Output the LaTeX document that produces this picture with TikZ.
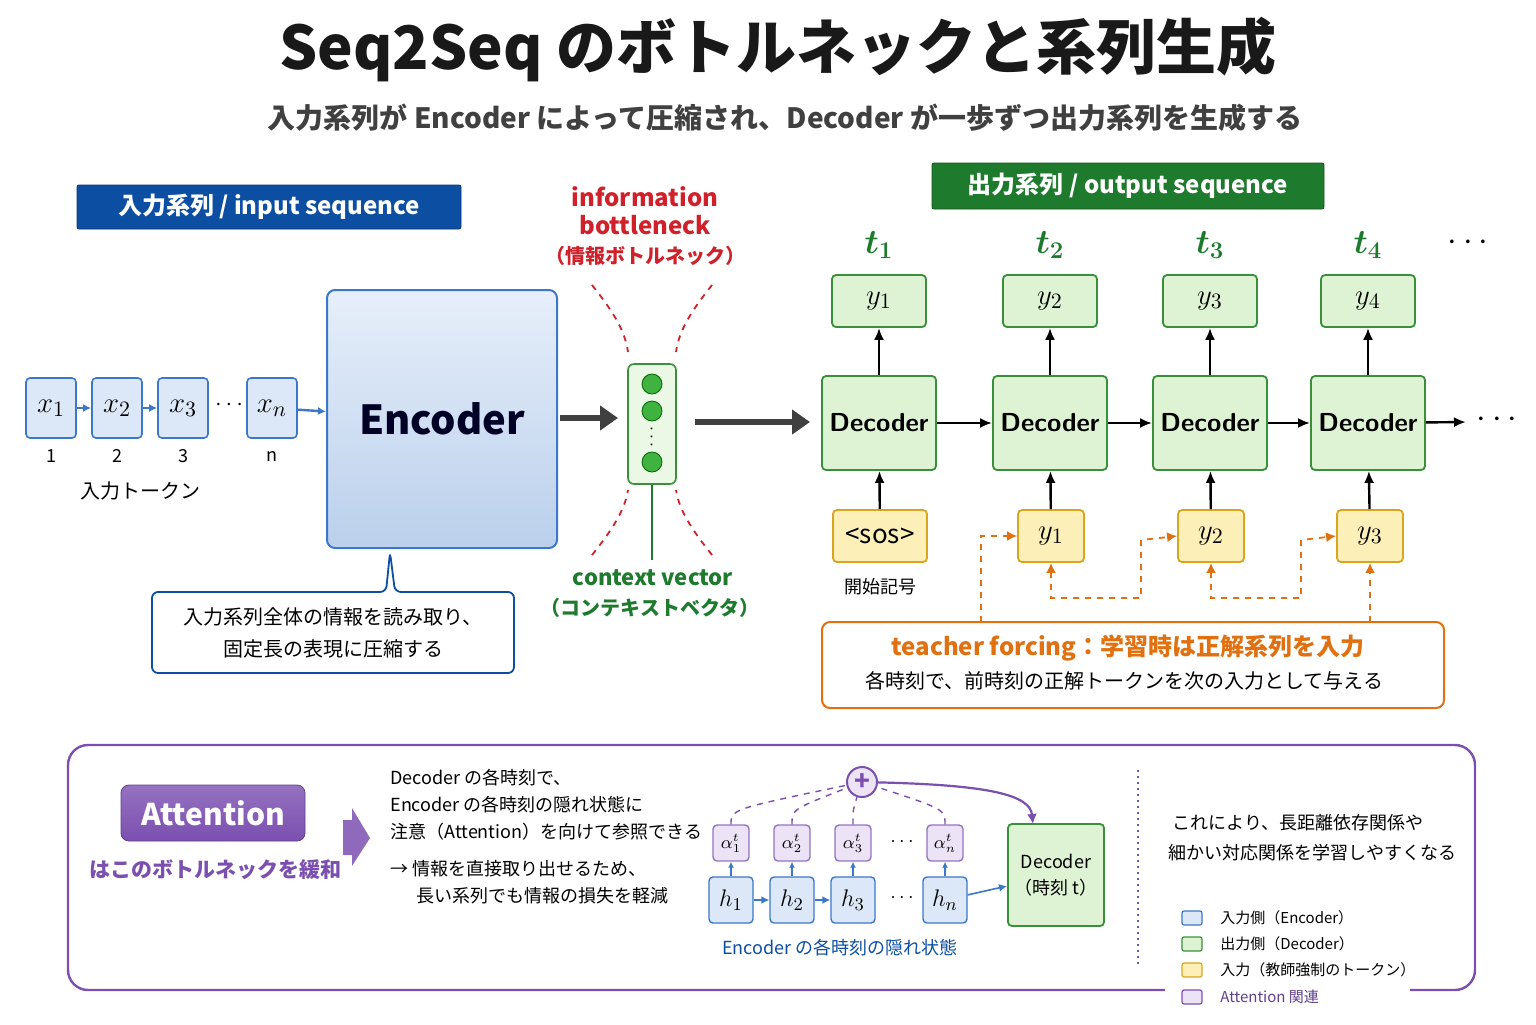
\documentclass[tikz,border=0pt]{standalone}
\usepackage{bm}
\usepackage{fontspec}
\setmainfont{Noto Sans CJK JP}
\usetikzlibrary{arrows.meta,calc,shapes.geometric}
\definecolor{dblue}{HTML}{0B4EA2}
\definecolor{lblue}{HTML}{DCE8F8}
\definecolor{bblue}{HTML}{3C78C8}
\definecolor{dgreen}{HTML}{1E7B2E}
\definecolor{lgreen}{HTML}{DDF3D3}
\definecolor{bgreen}{HTML}{3A8F3A}
\definecolor{lyel}{HTML}{FCEFB8}
\definecolor{byel}{HTML}{D9A520}
\definecolor{myred}{HTML}{D0202A}
\definecolor{orng}{HTML}{E07010}
\definecolor{purp}{HTML}{7B4FB0}
\definecolor{lpurp}{HTML}{EDE3F7}
\newcommand{\fs}[1]{\fontsize{#1}{#1}\selectfont}
\tikzset{
 x=0.5pt,y=-0.5pt,
 tok/.style={draw=bblue,fill=lblue,line width=0.8pt,rounded corners=2pt,minimum width=25pt,minimum height=30pt,font=\fs{15}},
 dec/.style={draw=bgreen,fill=lgreen,line width=0.9pt,rounded corners=2pt,minimum width=57pt,minimum height=47pt,font=\fs{14}},
 yout/.style={draw=bgreen,fill=lgreen,line width=0.9pt,rounded corners=2pt,minimum width=47pt,minimum height=26pt,font=\fs{15}},
 yin/.style={draw=byel,fill=lyel,line width=0.9pt,rounded corners=2pt,minimum width=33pt,minimum height=26pt,font=\fs{15}},
 tl/.style={text=dgreen,font=\fs{17}\bfseries},
 arr/.style={-{Latex[length=6pt,width=5pt]},line width=1.2pt,black},
 barr/.style={-{Latex[length=4pt,width=4pt]},line width=0.8pt,bblue},
 oarr/.style={{Latex[length=5pt,width=5pt]}-{Latex[length=5pt,width=5pt]},line width=0.9pt,orng,dashed},
 rd/.style={myred,dashed,line width=0.9pt},
 al/.style={draw=purp!80,fill=lpurp,line width=0.7pt,rounded corners=2pt,minimum width=18pt,minimum height=18pt,inner sep=0pt,font=\fs{9}},
 hb/.style={draw=bblue,fill=lblue,line width=0.7pt,rounded corners=2pt,minimum width=22pt,minimum height=23pt,font=\fs{13}},
 txt/.style={font=\fs{9},anchor=west,inner sep=0pt},
 leg/.style={draw,line width=0.6pt,minimum width=10pt,minimum height=7pt,inner sep=0pt,rounded corners=1pt},
}
\begin{document}
\begin{tikzpicture}
\useasboundingbox (0,0) rectangle (1536,1024);
% titles
\node[font=\fs{30}\bfseries,text=black!90] (title) at (778,50) {Seq2Seq のボトルネックと系列生成};
\node[font=\fs{14}\bfseries,text=black!75] (sub) at (785,118) {入力系列が Encoder によって圧縮され、Decoder が一歩ずつ出力系列を生成する};
\node[draw=dblue!70!black,fill=dblue,text=white,font=\fs{12}\bfseries,minimum width=192pt,minimum height=22pt,rounded corners=1pt] (inlab) at (269,207) {入力系列 / input sequence};
\node[draw=dgreen!70!black,fill=dgreen,text=white,font=\fs{12}\bfseries,minimum width=196pt,minimum height=23pt,rounded corners=1pt] (outlab) at (1128,186) {出力系列 / output sequence};
% input tokens
\node[tok] (x1) at (51,408) {$x_1$};
\node[tok] (x2) at (117,408) {$x_2$};
\node[tok] (x3) at (183,408) {$x_3$};
\node[font=\fs{12}] (xd) at (229,405) {$\cdots$};
\node[tok] (xn) at (272,408) {$x_n$};
\draw[barr] (x1) -- (x2); \draw[barr] (x2) -- (x3);
\node[font=\fs{9}] (n1) at (51,456) {1};
\node[font=\fs{9}] (n2) at (117,456) {2};
\node[font=\fs{9}] (n3) at (183,456) {3};
\node[font=\fs{9}] (nn) at (272,456) {n};
\node[font=\fs{10}] (intok) at (140,491) {入力トークン};
% encoder
\node[draw=bblue,line width=1pt,top color=lblue!70,bottom color=bblue!35,rounded corners=4pt,minimum width=115pt,minimum height=129pt,font=\fs{20}\bfseries,text=black!85!blue] (enc) at (442,419) {Encoder};
\draw[barr,line width=1.2pt] (xn) -- (enc);
% context vector
\node[draw=bgreen,fill=lgreen!60,rounded corners=3pt,line width=0.8pt,minimum width=24pt,minimum height=60pt] (cv) at (652,424) {};
\foreach \yy/\nm in {384/c1,411/c2,462/c3}
 \node[circle,fill=green!60!black!75,draw=green!40!black,minimum size=10pt,inner sep=0pt] (\nm) at (652,\yy) {};
\node[font=\fs{9},rotate=90] (cvd) at (652,437) {$\cdots$};
\draw[-{Triangle[length=9pt,width=12pt]},line width=3pt,black!75] (560,418) coordinate (ea) -- (618,418) coordinate (eb);
\draw[-{Triangle[length=9pt,width=12pt]},line width=3pt,black!75] (695,422) coordinate (cva) -- (810,422) coordinate (cvb);
\draw[rd] (592,285) .. controls (612,310) and (625,330) .. (628,352);
\draw[rd] (712,285) .. controls (692,310) and (679,330) .. (676,352);
\draw[rd] (592,555) .. controls (612,530) and (625,510) .. (628,490);
\draw[rd] (712,555) .. controls (692,530) and (679,510) .. (676,490);
\node[text=myred,font=\fs{12}\bfseries,align=center] (bn) at (645,211) {information\\[2pt]bottleneck};
\node[text=myred,font=\fs{10}\bfseries] (bnj) at (645,256) {（情報ボトルネック）};
\draw[dgreen,line width=0.9pt] (cv.south) -- (652,560) coordinate (cvl);
\node[text=dgreen,font=\fs{11}\bfseries] (cvt) at (653,578) {context vector};
\node[text=dgreen,font=\fs{10}\bfseries] (cvj) at (650,608) {（コンテキストベクタ）};
% callout
\draw[draw=dblue,fill=white,line width=0.9pt,rounded corners=3pt] (152,592) -- (386,592) -- (390,552) -- (395,592) -- (514,592) -- (514,673) -- (152,673) -- cycle;
\node[font=\fs{10},align=center] (callt) at (333,633) {入力系列全体の情報を読み取り、\\[6pt]固定長の表現に圧縮する};
% decoders
\foreach \i/\xx in {1/879,2/1050,3/1210,4/1368}{
 \node[dec] (d\i) at (\xx,423) {\fs{13}\sffamily\bfseries Decoder};
 \node[yout] (o\i) at (\xx,301) {$y_{\i}$};
 \node[tl] (t\i) at (\xx,245) {$\bm{t_{\i}}$};
 \draw[arr] (d\i) -- (o\i);
}
\node[font=\fs{16}\bfseries] (tdots) at (1468,243) {$\cdots$};
\draw[arr] (d1) -- (d2); \draw[arr] (d2) -- (d3); \draw[arr] (d3) -- (d4);
\coordinate (dend) at (1466,422);
\draw[arr] (d4) -- (dend);
\node[font=\fs{16}] (ddots) at (1497,420) {$\cdots$};
\node[yin,minimum width=47pt,font=\fs{13}] (sos) at (880,536) {<sos>};
\node[yin] (i1) at (1051,536) {$y_1$};
\node[yin] (i2) at (1211,536) {$y_2$};
\node[yin] (i3) at (1370,536) {$y_3$};
\node[font=\fs{9}] (sost) at (880,587) {開始記号};
\draw[arr] (sos) -- (d1); \draw[arr] (i1) -- (d2); \draw[arr] (i2) -- (d3); \draw[arr] (i3) -- (d4);
% teacher forcing
\node[draw=orng,line width=1pt,rounded corners=4pt,fill=white,minimum width=311pt,minimum height=43pt] (tf) at (1133,665) {};
\node[text=orng,font=\fs{12}\bfseries] (tft) at (1128,648) {teacher forcing：学習時は正解系列を入力};
\node[font=\fs{10}] (tfs) at (1124,681) {各時刻で、前時刻の正解トークンを次の入力として与える};
\draw[orng,dashed,line width=0.9pt,-{Latex[length=5pt,width=5pt]}] (981,622) |- (i1.west);
\draw[oarr] (i1.south) -- (1051,598) -| (1141,540) -- (i2.west);
\draw[oarr] (i2.south) -- (1211,598) -| (1301,540) -- (i3.west);
\draw[orng,dashed,line width=0.9pt,-{Latex[length=5pt,width=5pt]}] (1370,622) -- (i3.south);
% attention panel
\draw[purp,line width=1.2pt,rounded corners=10pt] (68,745) rectangle (1475,990);
\node[draw=purp!80!black,top color=purp!80,bottom color=purp,text=white,rounded corners=4pt,minimum width=92pt,minimum height=28pt,font=\fs{15}\bfseries] (att) at (213,813) {Attention};
\node[text=purp,font=\fs{10.5}\bfseries] (attt) at (215,870) {はこのボトルネックを緩和};
\fill[purp!85] (343,820) -- (352,820) -- (352,808) -- (370,838) -- (352,866) -- (352,855) -- (343,855) -- cycle;
\node[txt] (l1) at (390,778) {Decoder の各時刻で、};
\node[txt] (l2) at (390,805) {Encoder の各時刻の隠れ状態に};
\node[txt] (l3) at (390,832) {注意（Attention）を向けて参照できる};
\node[txt] (l4) at (390,869) {→ 情報を直接取り出せるため、};
\node[txt] (l5) at (416,896) {長い系列でも情報の損失を軽減};
\foreach \nm/\xx/\s in {1/731/1,2/792/2,3/853/3,n/945/n}{
 \node[al] (a\nm) at (\xx,843) {$\alpha^{t}_{\s}$};
 \node[hb] (h\nm) at (\xx,900) {$h_{\s}$};
 \draw[-{Latex[length=3pt,width=3pt]},bblue,line width=0.6pt] (h\nm) -- (a\nm);
}
\node[font=\fs{10}] (ad) at (902,842) {$\cdots$};
\node[font=\fs{10}] (hd) at (902,898) {$\cdots$};
\draw[barr] (h1) -- (h2); \draw[barr] (h2) -- (h3);
\node[circle,draw=purp,fill=lpurp,line width=1pt,minimum size=15pt,inner sep=0pt,font=\fs{13}\bfseries,text=purp] (plus) at (862,782) {+};
\foreach \nm in {1,2,3,n} \draw[purp,dashed,line width=0.7pt] (a\nm.north) .. controls ($(a\nm.north)+(0,-15)$) .. (plus);
\node[draw=bgreen,fill=lgreen,line width=0.9pt,rounded corners=2pt,minimum width=46pt,minimum height=51pt,font=\fs{9},align=center] (sd) at (1056,875) {Decoder\\[4pt]（時刻 t）};
\draw[purp,line width=1.1pt,-{Latex[length=5pt,width=5pt]}] (plus) .. controls (990,785) and (1030,795) .. (1033,824);
\draw[barr] (hn) -- (sd);
\node[text=dblue,font=\fs{9}] (enct) at (840,948) {Encoder の各時刻の隠れ状態};
\draw[purp,dotted,line width=1pt] (1138,770) -- (1138,965);
\node[txt] (r1) at (1172,823) {これにより、長距離依存関係や};
\node[txt] (r2) at (1168,853) {細かい対応関係を学習しやすくなる};
% legend
\fill[white] (1165,980) rectangle (1410,1010);
\node[leg,draw=bblue,fill=lblue] (g1) at (1192,918) {};
\node[leg,draw=bgreen,fill=lgreen] (g2) at (1192,944) {};
\node[leg,draw=byel,fill=lyel] (g3) at (1192,970) {};
\node[leg,draw=purp,fill=lpurp] (g4) at (1192,997) {};
\node[txt,font=\fs{7.5}] (gt1) at (1220,918) {入力側（Encoder）};
\node[txt,font=\fs{7.5}] (gt2) at (1220,944) {出力側（Decoder）};
\node[txt,font=\fs{7.5}] (gt3) at (1220,970) {入力（教師強制のトークン）};
\node[txt,font=\fs{7.5},text=purp!80!black] (gt4) at (1220,997) {Attention 関連};
\end{tikzpicture}
\end{document}
